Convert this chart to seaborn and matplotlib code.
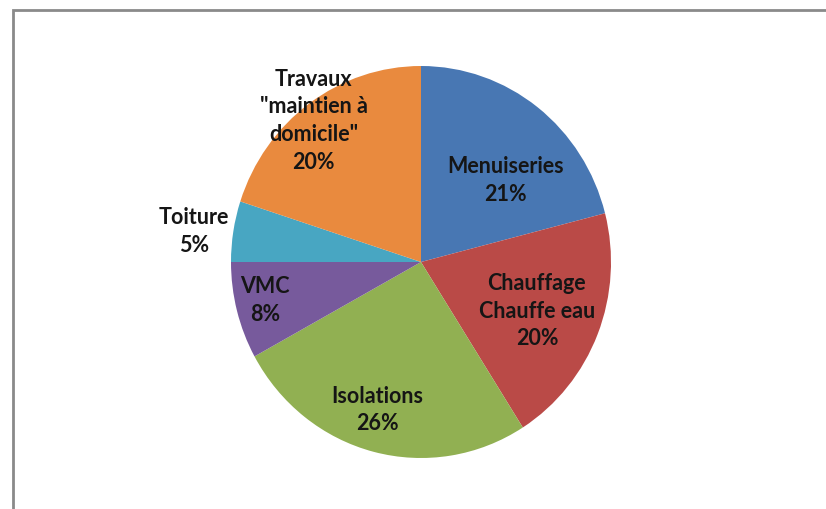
import matplotlib
matplotlib.use("Agg")
import matplotlib.pyplot as plt
import seaborn as sns
from matplotlib.patches import Rectangle


# Data (clockwise from the top)
CATEGORIES = ["Menuiseries", "Chauffage\nChauffe eau", "Isolations", "VMC", "Toiture",
              "Travaux\n\"maintien à\ndomicile\""]
SHARES = [21, 20, 26, 8, 5, 20]
COLORS = ["#4877b3", "#ba4a47", "#91b052", "#775a9c", "#48a6c2", "#e98a3e"]

# Label centres, in units of the pie radius (Excel places them by hand-ish)
LABEL_XY = [(0.445, 0.415), (0.610, -0.250), (-0.230, -0.755),
            (-0.820, -0.195), (-1.195, 0.155), (-0.565, 0.720)]

# Figure geometry in pixels
FIG_W, FIG_H = 826, 509
CENTER_PX = (421, 262)   # from the top-left corner
RADIUS_X_PX = 190        # the source picture is slightly stretched vertically
RADIUS_Y_PX = 196


def draw_pie_chart(output_path):
    sns.set_theme(style="white")
    plt.rcParams["font.family"] = ["Lato", "DejaVu Sans"]

    fig = plt.figure(figsize=(FIG_W / 100, FIG_H / 100), dpi=100)
    ax = fig.add_axes([0, 0, 1, 1])

    ax.pie(
        SHARES,
        colors=COLORS,
        startangle=90,
        counterclock=False,
        radius=1.0,
        wedgeprops=dict(edgecolor="none", linewidth=0),
    )

    # pie() resets the limits, so map data units afterwards:
    # 1.0 == pie radius and the centre sits where it should
    cx, cy = CENTER_PX
    cy_up = FIG_H - cy
    ax.set_xlim(-cx / RADIUS_X_PX, (FIG_W - cx) / RADIUS_X_PX)
    ax.set_ylim(-cy_up / RADIUS_Y_PX, (FIG_H - cy_up) / RADIUS_Y_PX)
    ax.set_aspect("auto")
    ax.axis("off")

    total = sum(SHARES)
    for name, value, (lx, ly) in zip(CATEGORIES, SHARES, LABEL_XY):
        pct = round(100 * value / total)
        ax.text(lx, ly, f"{name}\n{pct}%", ha="center", va="center",
                fontsize=15.5, fontweight="bold", color="#151515",
                linespacing=1.4)

    # Grey chart-area frame; right and bottom edges fall outside the picture
    frame = Rectangle((12.5 / FIG_W, -0.05), 1.2, 1 - 9.5 / FIG_H + 0.05,
                      transform=fig.transFigure, fill=False,
                      edgecolor="#8a8a8a", linewidth=2.0, clip_on=False)
    fig.add_artist(frame)

    fig.savefig(output_path, dpi=100, facecolor="white")


def main():
    draw_pie_chart("out.png")


if __name__ == "__main__":
    main()
